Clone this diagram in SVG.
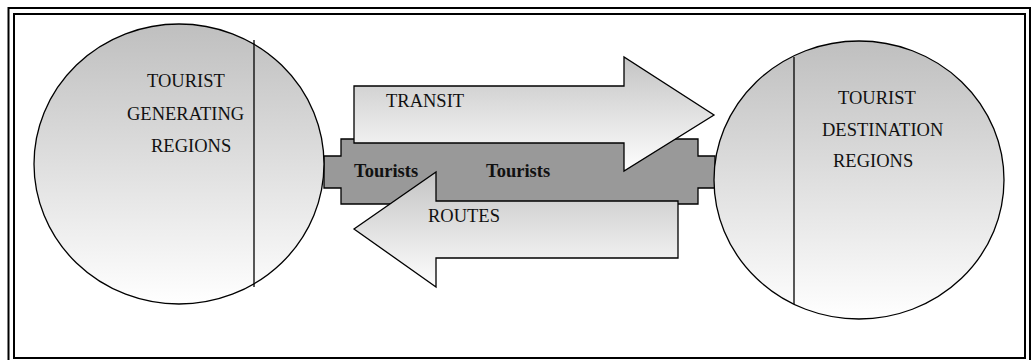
<svg xmlns="http://www.w3.org/2000/svg" width="1032" height="360" viewBox="0 0 1032 360">
  <style>
    .lbl { font-family: "Liberation Serif", "Times New Roman", "DejaVu Serif", serif; font-size: 18.5px; fill: #111; }
    .bold { font-weight: bold; }
    .edge { stroke: #000; stroke-width: 1.3; }
    .frame { fill: none; stroke: #000; }
  </style>
  <defs>
    <linearGradient id="shade" x1="0" y1="0" x2="0" y2="1">
      <stop offset="0" stop-color="#bfbfbf"/>
      <stop offset="1" stop-color="#ffffff"/>
    </linearGradient>
    <linearGradient id="shadeArrow" x1="0" y1="0" x2="0" y2="1">
      <stop offset="0" stop-color="#c4c4c4"/>
      <stop offset="1" stop-color="#fefefe"/>
    </linearGradient>
  </defs>

  <rect width="1032" height="360" fill="#fff"/>

  <!-- double page frame -->
  <g id="frame">
    <rect class="frame" x="8.5" y="8" width="1021.5" height="360" stroke-width="2"/>
    <rect class="frame" x="14" y="14" width="1011" height="344" stroke-width="2"/>
  </g>

  <!-- link band between the two regions -->
  <g id="connectors">
    <path class="edge" fill="#999999" d="M324,156 H341 V139 H698 V156 H715 V188 H698 V204 H341 V188 H324 Z"/>
  </g>

  <g id="generating">
    <ellipse class="edge" cx="179" cy="164" rx="145" ry="140" fill="url(#shade)"/>
    <line class="edge" x1="254" y1="40" x2="254" y2="287"/>
    <text class="lbl" x="147" y="87">TOURIST</text>
    <text class="lbl" x="127" y="119.5">GENERATING</text>
    <text class="lbl" x="151" y="151.5">REGIONS</text>
  </g>

  <g id="destination">
    <ellipse class="edge" cx="859" cy="180" rx="145" ry="139" fill="url(#shade)"/>
    <line class="edge" x1="794" y1="57" x2="794" y2="304"/>
    <text class="lbl" x="838" y="104">TOURIST</text>
    <text class="lbl" x="822" y="135.5">DESTINATION</text>
    <text class="lbl" x="833" y="167">REGIONS</text>
  </g>

  <g id="tourists">
    <text class="lbl bold" x="354" y="177">Tourists</text>
    <text class="lbl bold" x="486" y="177">Tourists</text>
  </g>

  <g id="transit">
    <path class="edge" fill="url(#shadeArrow)" d="M354,86 H624 V57 L714,115 L624,171 V143 H354 Z"/>
    <text class="lbl" x="386" y="107">TRANSIT</text>
  </g>

  <g id="routes">
    <path class="edge" fill="url(#shadeArrow)" d="M678,201 H436 V172 L354,229 L436,287 V258 H678 Z"/>
    <text class="lbl" x="428" y="222">ROUTES</text>
  </g>
</svg>
